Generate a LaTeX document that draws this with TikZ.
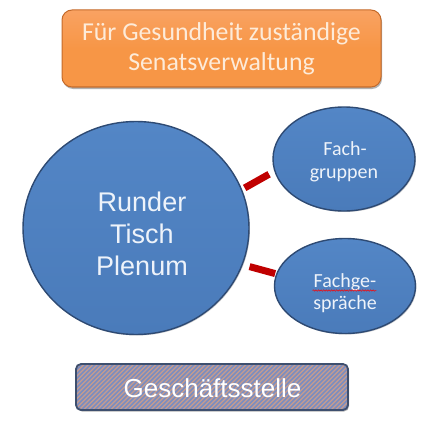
\documentclass[tikz,border=0pt]{standalone}
\usepackage{fontspec}
\setmainfont{Carlito}
\newfontfamily\arialf{Liberation Sans}
\usetikzlibrary{shapes.geometric,decorations.pathmorphing,shadows}
\definecolor{ofill}{HTML}{F79646}
\definecolor{otop}{HTML}{F9A262}
\definecolor{odraw}{HTML}{C46A2A}
\definecolor{otext}{HTML}{FDEBD9}
\definecolor{bfill}{HTML}{4A7BBA}
\definecolor{btop}{HTML}{5386C6}
\definecolor{bdraw}{HTML}{2E4A73}
\definecolor{btext}{HTML}{EEF3FA}
\definecolor{conncol}{HTML}{C00000}
\definecolor{gsbase}{HTML}{7B8DC0}
\definecolor{gsstripe}{HTML}{C69C8E}
\definecolor{gsdraw}{HTML}{3E4F6E}
\tikzset{
  orangebox/.style={rectangle, rounded corners=10pt, draw=odraw, line width=1pt,
    top color=otop, bottom color=ofill, middle color=ofill, text=otext, align=center,
    font=\fontsize{25.8}{30}\selectfont, inner sep=0pt,
    drop shadow={shadow xshift=1pt, shadow yshift=-2pt, opacity=0.3, fill=black}},
  bluecirc/.style={ellipse, draw=bdraw, line width=1.4pt, top color=btop, bottom color=bfill,
    inner sep=0pt,
    drop shadow={shadow xshift=1pt, shadow yshift=-1pt, opacity=0.2, fill=black}},
  bigtext/.style={anchor=base, text=btext, inner sep=0pt, font=\arialf\fontsize{27}{32}\selectfont},
  smalltext/.style={anchor=base, text=btext, inner sep=0pt, font=\fontsize{20}{24}\selectfont},
  conn/.style={draw=conncol, line width=7pt},
  gsbox/.style={rectangle, rounded corners=5pt, draw=gsdraw, line width=1.8pt, fill=gsbase,
    inner sep=0pt,
    drop shadow={shadow xshift=1pt, shadow yshift=-1.5pt, opacity=0.3, fill=black},
    path picture={\foreach \i in {0,4.5,...,340}
      \draw[gsstripe, line width=1.3pt] ([xshift=\i pt-60pt]path picture bounding box.south west) -- ++(60pt,60pt);}},
  gstext/.style={anchor=base, text=white, inner sep=0pt, font=\arialf\fontsize{26}{30}\selectfont},
  spell/.style={draw=red, line width=0.5pt, decorate, decoration={snake, amplitude=0.7pt, segment length=2.6pt}}
}
\begin{document}
\begin{tikzpicture}[x=1pt,y=1pt]
\useasboundingbox (0,0) rectangle (441,432);
\fill[white] (0,0) rectangle (441,432);
\node[orangebox, minimum width=319pt, minimum height=77pt] (sen) at (221.5,383.5)
  {Für Gesundheit zuständige\\Senatsverwaltung};
\node[bluecirc, minimum width=226pt, minimum height=213pt] (big) at (136,204) {};
\node[bigtext] (t1) at (142,221) {Runder};
\node[bigtext] (t2) at (142,189) {Tisch};
\node[bigtext] (t3) at (142,157) {Plenum};
\node[bluecirc, minimum width=142pt, minimum height=104pt] (fg) at (344,273) {};
\node[smalltext] (fg1) at (345,277) {Fach-};
\node[smalltext] (fg2) at (344,254) {gruppen};
\node[bluecirc, minimum width=141pt, minimum height=95pt] (fs) at (345,146) {};
\node[smalltext] (fs1) at (345,145) {Fachge-};
\node[smalltext] (fs2) at (345,123) {spräche};
\draw[spell] ([xshift=-1pt,yshift=-3.5pt]fs1.base west) -- ([xshift=0pt,yshift=-3.5pt]fs1.base east);
\draw[conn, shorten <=3pt, shorten >=6pt] (big.20) -- (fg.190);
\draw[conn, shorten <=7pt, shorten >=1pt] (big.-19) -- (fs.170);
\node[gsbox, minimum width=272pt, minimum height=46pt] (gs) at (212,45) {};
\node[gstext] (gst) at (212.5,35) {Geschäftsstelle};
\end{tikzpicture}
\end{document}
